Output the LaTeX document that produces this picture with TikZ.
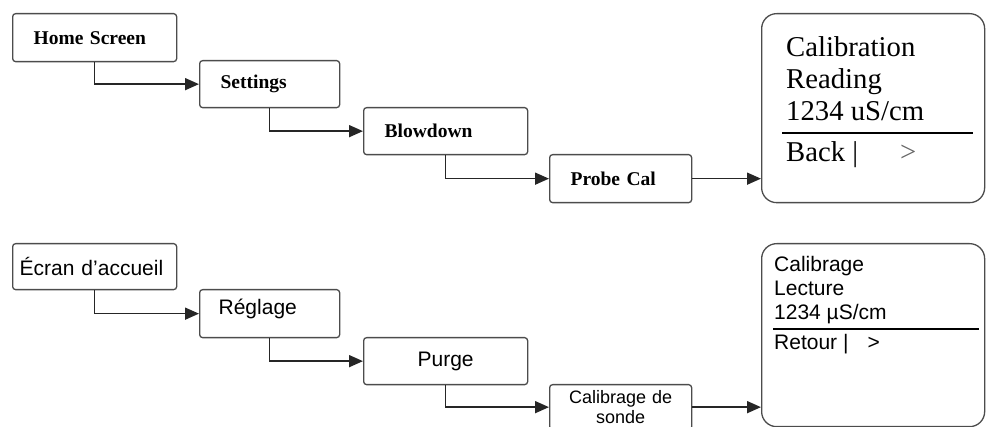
\documentclass[tikz,border=0pt]{standalone}
\usepackage{fontspec}
\setmainfont{Liberation Sans}
\newfontfamily\tnr{Liberation Serif}
\usepackage{tikz}
\usetikzlibrary{calc}
\usetikzlibrary{arrows.meta}
\usetikzlibrary{positioning}
\tikzset{menu/.style={draw=black!70,line width=1.3pt,rounded corners=3pt,anchor=north west,align=left,inner xsep=21pt,inner ysep=0pt,minimum height=48pt}}
\tikzset{disp/.style={draw=black!70,line width=1.3pt,rounded corners=15pt,anchor=north west,inner sep=0pt}}
\tikzset{en/.style={font=\tnr\bfseries\fontsize{19.5}{22}\selectfont}}
\tikzset{fr/.style={font=\fontsize{21}{24}\selectfont}}
\tikzset{dtop/.style={font=\tnr\fontsize{28.7}{32}\selectfont,anchor=base west,inner sep=0pt}}
\tikzset{dbot/.style={font=\fontsize{21}{24}\selectfont,anchor=base west,inner sep=0pt}}
\tikzset{link/.style={draw=black!85,line width=1.6pt,-{Triangle[length=14pt,width=12pt]}}}

\begin{document}
\begin{tikzpicture}[x=1pt,y=-1pt]
\useasboundingbox (0,0) rectangle (986,427);

% English menu path
\node[menu,en,text width=122pt] (HS) at (12,13) {Home Screen};
\node[menu,en,text width=98pt,minimum height=47pt] (ST) at (199,60) {Settings};
\node[menu,en,text width=122pt,minimum height=47pt] (BD) at (363,107) {Blowdown};
\node[menu,en,text width=100pt] (PC) at (549,154) {Probe Cal};
\node[disp,minimum width=223pt,minimum height=189pt] (DP) at (761,13) {};

\draw[link] (HS.south) |- (ST.west);
\draw[link] (ST.south) |- (BD.west);
\draw[link] (BD.south) |- (PC.west);
\draw[link] (PC.east) -- (PC.east -| DP.west);

\foreach \t [count=\i] in {Calibration, Reading, 1234 uS/cm}
  \node[dtop] (r\i) at (786, {57+32*(\i-1)}) {\t};
\draw[line width=2.8pt] (782,133) -- (973,133);
\node[dtop] (bk) at (786,162) {Back |\hspace{42pt}\textcolor{black!60}{>}};

% French menu path
\node[menu,fr,text width=150pt,inner xsep=7pt,minimum height=46pt] (EA) at (12,243) {Écran d’accueil};
\node[menu,fr,text width=102pt,inner xsep=19pt,text depth=13pt] (RG) at (199,289) {Réglage};
\node[menu,fr,text width=122pt,align=center,minimum height=47pt] (PG) at (363,337) {Purge};
\node[menu,font=\fontsize{18}{19.5}\selectfont,text width=124pt,inner xsep=9pt,align=center,minimum height=45pt] (CS) at (549,384) {Calibrage de\\sonde};
\node[disp,minimum width=223pt,minimum height=183pt] (DQ) at (761,243) {};

\draw[link] (EA.south) |- (RG.west);
\draw[link] (RG.south) |- (PG.west);
\draw[link] (PG.south) |- (CS.west);
\draw[link] (CS.east) -- (CS.east -| DQ.west);

\foreach \t [count=\i] in {Calibrage, Lecture, 1234 µS/cm}
  \node[dbot] (l\i) at (774, {272+24*(\i-1)}) {\t};
\draw[line width=1.5pt] (773,329) -- (979,329);
\node[dbot] (rt) at (774,350) {Retour |\hspace{19pt}>};

\end{tikzpicture}
\end{document}
